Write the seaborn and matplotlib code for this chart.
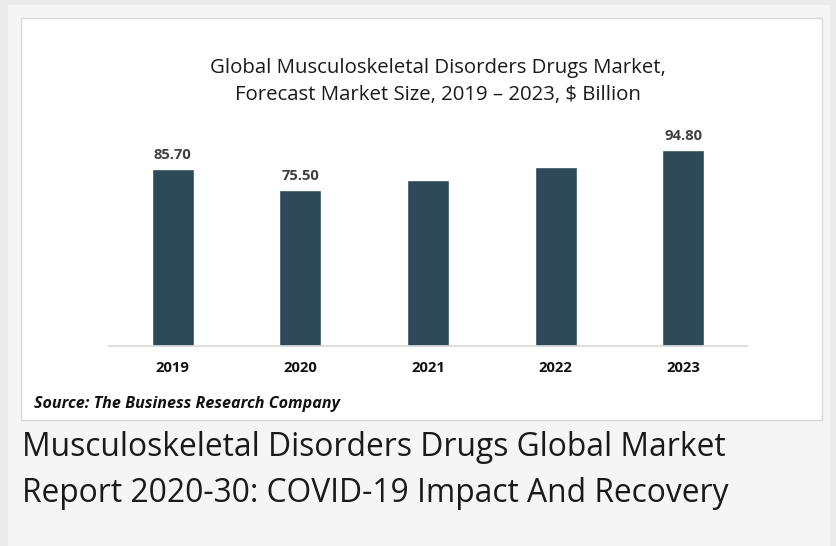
import pandas as pd
import matplotlib.pyplot as plt
import seaborn as sns
from matplotlib.patches import Rectangle

# data
years = ['2019', '2020', '2021', '2022', '2023']
market_size = [85.70, 75.50, 80.40, 86.80, 94.80]
shown_labels = ['85.70', '75.50', '', '', '94.80']

df = pd.DataFrame({'year': years, 'size': market_size})

sns.set_theme(style='white')
plt.rcParams['font.family'] = ['Open Sans', 'DejaVu Sans']

W, H = 836, 546
fig = plt.figure(figsize=(W / 100, H / 100), dpi=100)
fig.patch.set_facecolor('#ebebeb')

# page background and white chart box
fig.patches.append(Rectangle((8 / W, 0), 822 / W, 541 / H, transform=fig.transFigure,
                             facecolor='#f5f5f5', edgecolor='none', zorder=0))
fig.patches.append(Rectangle((21 / W, 1 - 420 / H), 801 / W, 402 / H, transform=fig.transFigure,
                             facecolor='white', edgecolor='#d9d9d9', linewidth=1, zorder=1))

ax = fig.add_axes([109 / W, 200 / H, 638 / W, 206.5 / H])
ax.set_facecolor('none')
ax.set_zorder(5)

sns.barplot(data=df, x='year', y='size', color='#2e4a59', width=0.33, saturation=1, ax=ax)
ax.set_xlim(-0.5, 4.5)
ax.set_ylim(0, 100)

ax.bar_label(ax.containers[0], labels=shown_labels, padding=5, fontsize=10.6,
             fontweight='bold', color='#404040')

for s in ['top', 'right', 'left']:
    ax.spines[s].set_visible(False)
ax.spines['bottom'].set_color('#d9d9d9')
ax.spines['bottom'].set_linewidth(1.2)
ax.set_yticks([])
ax.set_xlabel('')
ax.set_ylabel('')
ax.tick_params(axis='x', length=0, pad=11)
for t in ax.get_xticklabels():
    t.set_fontweight('bold')
    t.set_fontsize(10.6)
    t.set_color('#111111')

fig.text(437.5 / W, 1 - 68 / H, 'Global Musculoskeletal Disorders Drugs Market,',
         ha='center', va='center', fontsize=14.7, color='#1a1a1a', zorder=6)
fig.text(437.5 / W, 1 - 95 / H, 'Forecast Market Size, 2019 \u2013 2023, $ Billion',
         ha='center', va='center', fontsize=14.7, color='#1a1a1a', zorder=6)

fig.text(34 / W, 1 - 404 / H, 'Source: The Business Research Company',
         ha='left', va='center', fontsize=11.6, fontweight='bold', fontstyle='italic',
         color='#111111', zorder=6)

fig.text(22 / W, 1 - 447 / H, 'Musculoskeletal Disorders Drugs Global Market',
         ha='left', va='center', fontsize=22.9, color='#1a1a1a', zorder=6)
fig.text(22 / W, 1 - 493 / H, 'Report 2020-30: COVID-19 Impact And Recovery',
         ha='left', va='center', fontsize=22.9, color='#1a1a1a', zorder=6)

fig.savefig('out.png', dpi=100, facecolor=fig.get_facecolor())
